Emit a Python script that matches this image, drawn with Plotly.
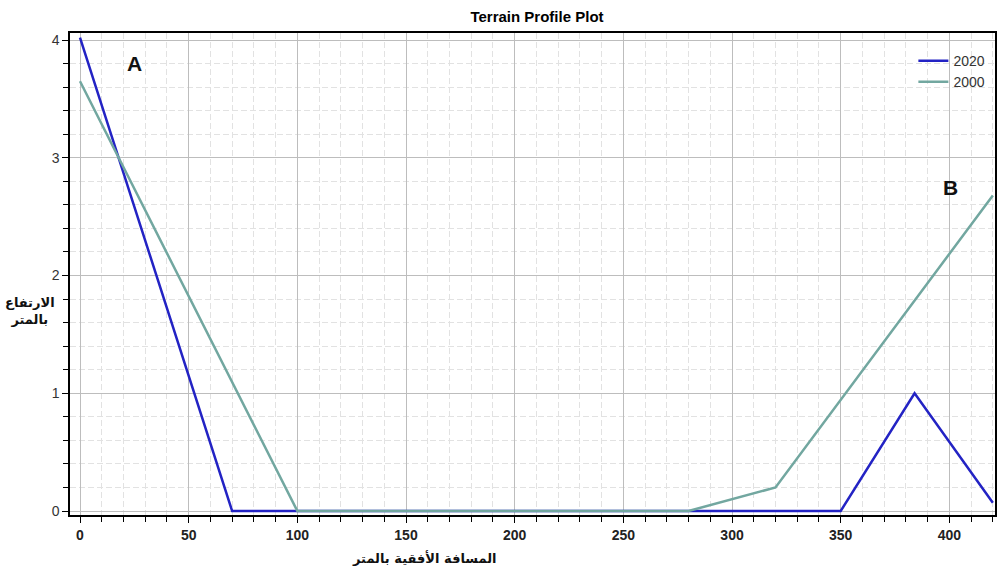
import plotly.graph_objects as go

dist_2020 = [0, 70, 100, 150, 200, 250, 300, 350, 384, 420]
elev_2020 = [4.02, 0, 0, 0, 0, 0, 0, 0, 1.0, 0.07]
dist_2000 = [0, 100, 150, 200, 250, 280, 320, 420]
elev_2000 = [3.65, 0, 0, 0, 0, 0, 0.2, 2.68]
x_ticks = [0, 50, 100, 150, 200, 250, 300, 350, 400]
y_ticks = [0, 1, 2, 3, 4]

fig = go.Figure()
fig.add_trace(go.Scatter(x=dist_2020, y=elev_2020, mode="lines", name="2020",
                         line=dict(color="#2323c4", width=2.5)))
fig.add_trace(go.Scatter(x=dist_2000, y=elev_2000, mode="lines", name="2000",
                         line=dict(color="#72a7a0", width=2.5)))

axis_common = dict(showline=True, linecolor="black", linewidth=1.5, mirror=True,
                   showgrid=True, gridcolor="#bdbdbd", gridwidth=1, zeroline=False,
                   ticks="outside", tickcolor="black", ticklen=6)
minor_grid = dict(showgrid=True, griddash="6px,3px", gridcolor="#e2e2e2",
                  ticks="outside", ticklen=5, tickcolor="black")
fig.update_xaxes(**axis_common, range=[-4.6, 421], tickvals=x_ticks,
                 tickfont=dict(family="Liberation Sans", size=14, color="#222", weight="bold"),
                 minor=dict(dtick=10, tick0=0, **minor_grid))
fig.update_yaxes(**axis_common, range=[-0.034, 4.06], tickvals=y_ticks,
                 tickfont=dict(family="Liberation Sans", size=14, color="#333"),
                 minor=dict(dtick=0.2, tick0=0, **minor_grid))

W, H = 999, 574
l, r, t, b = 70, 2, 33, 59
pw, ph = W - l - r, H - t - b


def px_to_paper(px, py):
    return (px - l) / pw, 1 - (py - t) / ph


ax_y, ay_y = px_to_paper(3, 311)
ax_x, ay_x = px_to_paper(425, 558)

fig.update_layout(
    width=W, height=H,
    margin=dict(l=l, r=r, t=t, b=b),
    paper_bgcolor="white", plot_bgcolor="white",
    title=dict(text="<b>Terrain Profile Plot</b>", x=537 / W, xanchor="center", y=1 - 17 / H, yanchor="middle",
               font=dict(family="Liberation Sans", size=15, color="black")),
    legend=dict(x=0.995, y=0.975, xanchor="right", yanchor="top", bgcolor="rgba(0,0,0,0)",
                font=dict(family="Liberation Sans", size=14, color="#333"), itemwidth=30,
                tracegroupgap=0),
    showlegend=True,
    annotations=[
        dict(text="<b>A</b>", x=25, y=3.8, xref="x", yref="y", showarrow=False,
             xanchor="center", yanchor="middle",
             font=dict(family="Liberation Sans", size=21, color="#111")),
        dict(text="<b>B</b>", x=400.5, y=2.75, xref="x", yref="y", showarrow=False,
             xanchor="center", yanchor="middle",
             font=dict(family="Liberation Sans", size=21, color="#111")),
        dict(text="<b>الارتفاع<br>بالمتر</b>", x=ax_y, y=ay_y, xref="paper", yref="paper",
             showarrow=False, xanchor="left", yanchor="middle",
             font=dict(family="DejaVu Sans", size=13, color="#111"), align="center"),
        dict(text="<b>المسافة الأفقية بالمتر</b>", x=ax_x, y=ay_x, xref="paper", yref="paper",
             showarrow=False, xanchor="center", yanchor="middle",
             font=dict(family="DejaVu Sans", size=13, color="#111")),
    ],
)

fig.write_html("out.html")
